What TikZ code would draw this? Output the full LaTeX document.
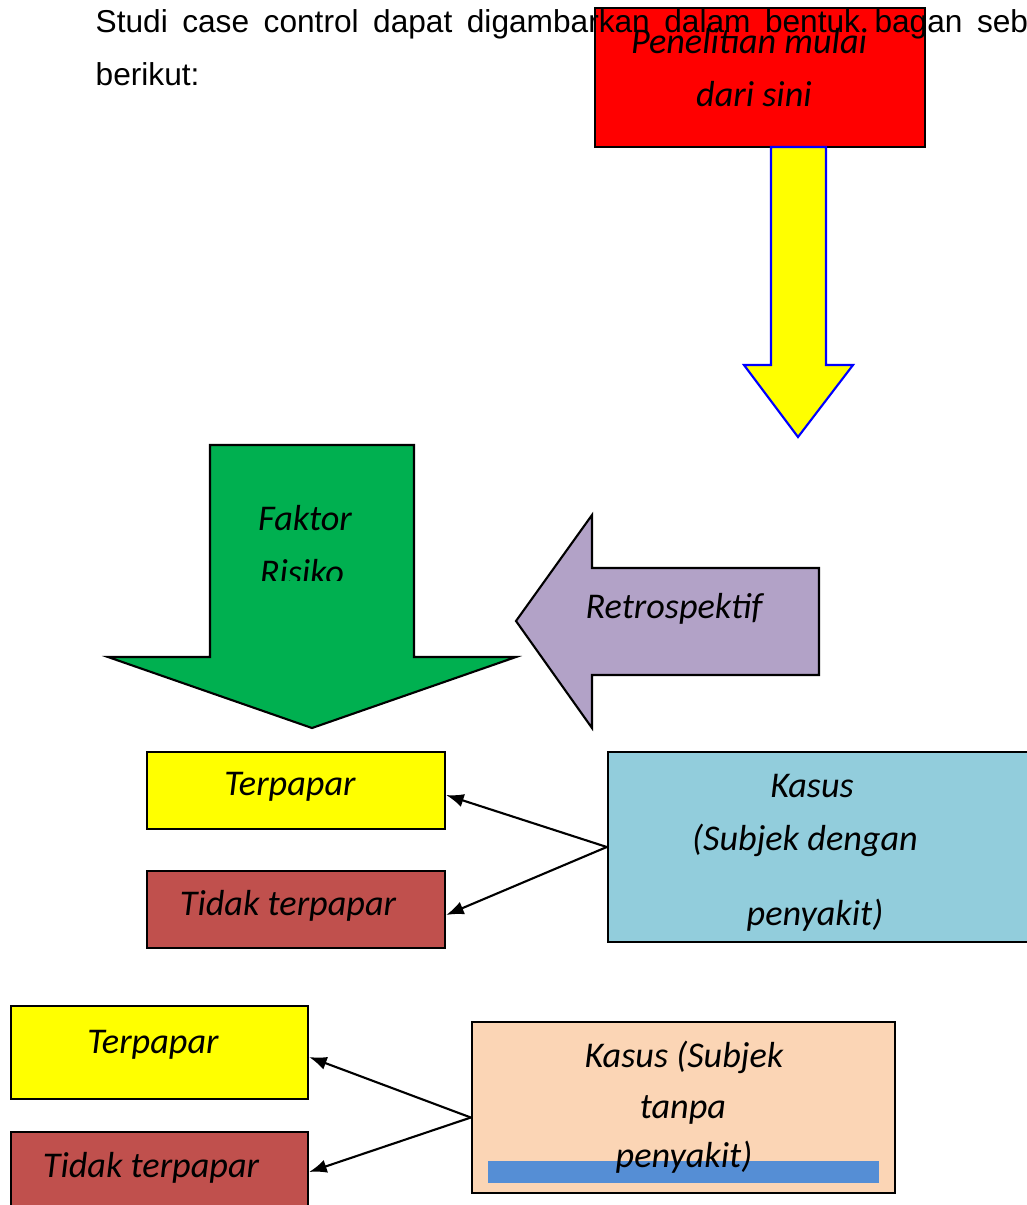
\documentclass[tikz,border=0pt]{standalone}
\usepackage{fontspec}
\setmainfont{Liberation Sans}
\newfontfamily\calib{Carlito}
\usetikzlibrary{arrows.meta}

\definecolor{merah}{HTML}{FF0000}
\definecolor{kuning}{HTML}{FFFF00}
\definecolor{hijau}{HTML}{00B050}
\definecolor{ungu}{HTML}{B2A2C7}
\definecolor{bata}{HTML}{C0504D}
\definecolor{birumuda}{HTML}{92CDDC}
\definecolor{peach}{HTML}{FBD5B5}
\definecolor{biru}{HTML}{558ED5}

\tikzset{
    box/.style={draw=black, line width=0.6pt, inner sep=0pt},
    lbl/.style={font=\calib\itshape\fontsize{10.3}{12}\selectfont, inner sep=0pt, anchor=base},
    hdr/.style={font=\fontsize{9}{11}\selectfont, inner sep=0pt, anchor=base west},
    conn/.style={line width=0.6pt, -{Latex[length=5pt,width=3.8pt]}}
}

\begin{document}
\begin{tikzpicture}[x=0.01cm, y=-0.01cm]
        \useasboundingbox (0,0) rectangle (1027,1205);

        % Start box
        \node (mulai) [box, fill=merah, minimum width=3.30cm, minimum height=1.39cm] at (760,77.5) {};
        \node (judul1) [hdr] at (95,32) {\makebox[9.32cm][s]{Studi case control dapat digambarkan dalam bentuk bagan seb}};
        \node (judul2) [hdr] at (95,85) {berikut:};
        \node (mulai1) [lbl] at (749,53) {Penelitian mulai};
        \node (mulai2) [lbl] at (754,106) {dari sini};

        % Block arrows
        \draw[blue, line width=0.6pt, fill=kuning] (771,147) -- (826,147) -- (826,365) -- (853,365) -- (798,437) -- (744,365) -- (771,365) -- cycle;
        \draw[black, line width=0.6pt, fill=hijau] (210,445) -- (414,445) -- (414,657) -- (516,657) -- (312,728) -- (108,657) -- (210,657) -- cycle;
        \draw[black, line width=0.6pt, fill=ungu] (516,621) -- (592,515) -- (592,568) -- (819,568) -- (819,675) -- (592,675) -- (592,728) -- cycle;
        \begin{scope}
            \clip (210,445) rectangle (414,580);
            \node (faktor) [lbl] at (305,530) {Faktor};
            \node (risiko) [lbl] at (302,584) {Risiko};
        \end{scope}
        \node (retro) [lbl] at (674,618) {Retrospektif};

        % Kasus
        \node (terpapar1) [box, fill=kuning, minimum width=2.98cm, minimum height=0.77cm] at (296,790.5) {};
        \node (tidak1) [box, fill=bata, minimum width=2.98cm, minimum height=0.77cm] at (296,909.5) {};
        \node (kasus1) [box, fill=birumuda, minimum width=4.32cm, minimum height=1.90cm] at (824,847) {};
        \node (terpapar1t) [lbl] at (290,795) {Terpapar};
        \node (tidak1t) [lbl] at (288,915) {Tidak terpapar};
        \node (kasus1a) [lbl] at (812,797) {Kasus};
        \node (kasus1b) [lbl] at (805,850) {(Subjek dengan};
        \node (kasus1c) [lbl] at (815,925) {penyakit)};

        \draw[conn] (kasus1.west) -- ([yshift=-0.045cm]terpapar1.east);
        \draw[conn] (kasus1.west) -- ([yshift=-0.055cm]tidak1.east);

        % Kontrol
        \node (terpapar2) [box, fill=kuning, minimum width=2.97cm, minimum height=0.93cm] at (159.5,1052.5) {};
        \node (tidak2) [box, fill=bata, minimum width=2.97cm, minimum height=0.93cm] at (159.5,1178.5) {};
        \node (kasus2) [box, fill=peach, minimum width=4.23cm, minimum height=1.71cm] at (683.5,1107.5) {};
        \fill[biru] (488,1161) rectangle (879,1183);
        \node (terpapar2t) [lbl] at (153,1053) {Terpapar};
        \node (tidak2t) [lbl] at (151,1177) {Tidak terpapar};
        \node (kasus2a) [lbl] at (684,1067) {Kasus (Subjek};
        \node (kasus2b) [lbl] at (683,1118) {tanpa};
        \node (kasus2c) [lbl] at (684,1167) {penyakit)};

        \draw[conn] ([yshift=-0.1cm]kasus2.west) -- ([yshift=-0.045cm]terpapar2.east);
        \draw[conn] ([yshift=-0.1cm]kasus2.west) -- ([yshift=0.065cm]tidak2.east);
\end{tikzpicture}
\end{document}
